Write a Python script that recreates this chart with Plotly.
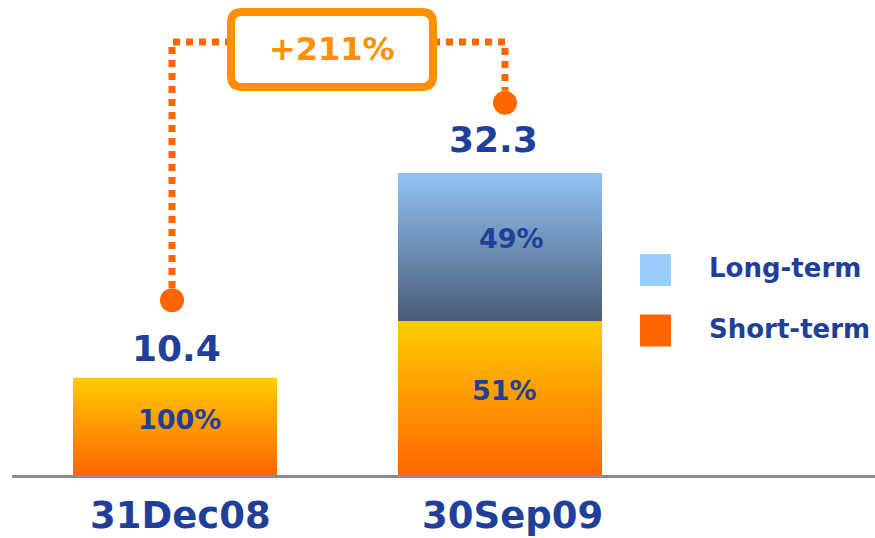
import plotly.graph_objects as go

# ---- data ----
categories = ["31Dec08", "30Sep09"]
totals = [10.4, 32.3]
short_term_pct = [100, 51]
long_term_pct = [0, 49]
series_names = ["Long-term", "Short-term"]

# ---- style ----
W, H = 875, 538
PX_PER_UNIT = 9.35
BASE_PX = 475
X0_PX, X_STEP_PX = 175, 325
BLUE_TXT = "#1f3f99"
ORANGE = "#ff6600"
ORANGE_LT = "#ff9000"
FONT = "DejaVu Sans"
bar_w = 204 / X_STEP_PX

xs = list(range(len(categories)))
short_vals = [t * p / 100 for t, p in zip(totals, short_term_pct)]
long_vals = [t * p / 100 for t, p in zip(totals, long_term_pct)]

fig = go.Figure()


def rect_trace(xc, y0, y1, c_bottom, c_top):
    xl, xr = xc - bar_w / 2, xc + bar_w / 2
    return go.Scatter(
        x=[xl, xr, xr, xl, xl], y=[y0, y0, y1, y1, y0],
        mode="lines", line=dict(width=0), fill="toself",
        fillgradient=dict(type="vertical", colorscale=[[0, c_bottom], [1, c_top]],
                          start=y0, stop=y1),
        hoverinfo="skip", showlegend=False,
    )


for x, s, l in zip(xs, short_vals, long_vals):
    if s > 0:
        fig.add_trace(rect_trace(x, 0, s, "#ff6600", "#ffcc00"))
    if l > 0:
        fig.add_trace(rect_trace(x, s, s + l, "#485c78", "#92c3f4"))

annotations = []
shapes = []

# baseline
shapes.append(dict(type="line", xref="paper", yref="y", x0=12 / W, x1=1,
                   y0=-1.5 / PX_PER_UNIT, y1=-1.5 / PX_PER_UNIT,
                   line=dict(color="#8c8c8c", width=3), layer="below"))

# category labels
for x, c, xs_ in zip(xs, categories, [5, 12]):
    annotations.append(dict(x=x, y=0, text=c, showarrow=False, yshift=-40, xshift=xs_,
                            font=dict(family=FONT, size=37, color=BLUE_TXT, weight="bold")))
# totals
for x, t, xs_, ys_ in zip(xs, totals, [1, -7], [29, 34]):
    annotations.append(dict(x=x, y=t, text=f"{t:.1f}", showarrow=False, yshift=ys_, xshift=xs_,
                            font=dict(family=FONT, size=36, color=BLUE_TXT, weight="bold")))
# percent labels
for x, s, l, sp, lp in zip(xs, short_vals, long_vals, short_term_pct, long_term_pct):
    if sp > 0:
        annotations.append(dict(x=x, y=s / 2, text=f"{sp}%", showarrow=False, yshift=7, xshift=4,
                                font=dict(family=FONT, size=27, color=BLUE_TXT, weight="bold")))
    if lp > 0:
        annotations.append(dict(x=x, y=s + l / 2, text=f"{lp}%", showarrow=False, yshift=8, xshift=11,
                                font=dict(family=FONT, size=27, color=BLUE_TXT, weight="bold")))

# growth connector
growth = (totals[1] / totals[0] - 1) * 100
d1x, d1y = xs[0] - 3 / X_STEP_PX, totals[0] + 8.3
d2x, d2y = xs[1] + 5 / X_STEP_PX, totals[1] + 7.5
top_y = (BASE_PX - 42) / PX_PER_UNIT
box_cx = (332 - X0_PX) / X_STEP_PX
box_cy = (BASE_PX - 49.5) / PX_PER_UNIT
box_half_w = 101 / X_STEP_PX
dot_line = dict(color=ORANGE, width=7, dash="7px,6px")
shapes.append(dict(type="path", xref="x", yref="y",
                   path=f"M {d1x},{d1y + 1.3} L {d1x},{top_y} L {box_cx - box_half_w},{top_y}",
                   line=dot_line))
shapes.append(dict(type="path", xref="x", yref="y",
                   path=f"M {box_cx + box_half_w},{top_y} L {d2x},{top_y} L {d2x},{d2y + 1.3}",
                   line=dot_line))
for dx, dy in [(d1x, d1y), (d2x, d2y)]:
    shapes.append(dict(type="circle", xref="x", yref="y", xsizemode="pixel", ysizemode="pixel",
                       xanchor=dx, yanchor=dy, x0=-12, x1=12, y0=-12, y1=12,
                       fillcolor=ORANGE, line=dict(width=0)))
# rounded box (pixel path relative to anchor)
bw, bh, r = 101, 37.5, 11
box_path = (f"M {-bw + r},{-bh} L {bw - r},{-bh} Q {bw},{-bh} {bw},{-bh + r} "
            f"L {bw},{bh - r} Q {bw},{bh} {bw - r},{bh} L {-bw + r},{bh} "
            f"Q {-bw},{bh} {-bw},{bh - r} L {-bw},{-bh + r} Q {-bw},{-bh} {-bw + r},{-bh} Z")
shapes.append(dict(type="path", xref="x", yref="y", xsizemode="pixel", ysizemode="pixel",
                   xanchor=box_cx, yanchor=box_cy, path=box_path,
                   fillcolor="white", line=dict(color=ORANGE_LT, width=8)))
annotations.append(dict(x=box_cx, y=box_cy, text=f"+{growth:.0f}%", showarrow=False, yshift=1,
                        font=dict(family=FONT, size=32, color=ORANGE_LT, weight="bold")))

# legend (manual)
legend_colors = ["#99ccff", "#ff6600"]
legend_y = [270, 330.5]
for name, col, py in zip(series_names, legend_colors, legend_y):
    shapes.append(dict(type="rect", xref="paper", yref="paper",
                       x0=640 / W, x1=671 / W, y0=1 - (py + 16) / H, y1=1 - (py - 16) / H,
                       fillcolor=col, line=dict(width=0)))
    annotations.append(dict(x=707 / W, y=1 - (py - 2) / H, xref="paper", yref="paper",
                            text=name, showarrow=False, xanchor="left", yanchor="middle",
                            font=dict(family=FONT, size=26, color=BLUE_TXT, weight="bold")))

fig.update_layout(
    width=W, height=H, margin=dict(l=0, r=0, t=0, b=0),
    paper_bgcolor="white", plot_bgcolor="white",
    xaxis=dict(range=[-X0_PX / X_STEP_PX, (W - X0_PX) / X_STEP_PX], visible=False, fixedrange=True),
    yaxis=dict(range=[-(H - BASE_PX) / PX_PER_UNIT, BASE_PX / PX_PER_UNIT], visible=False, fixedrange=True),
    shapes=shapes, annotations=annotations, showlegend=False,
)

fig.write_html("out.html", config={"displayModeBar": False})
